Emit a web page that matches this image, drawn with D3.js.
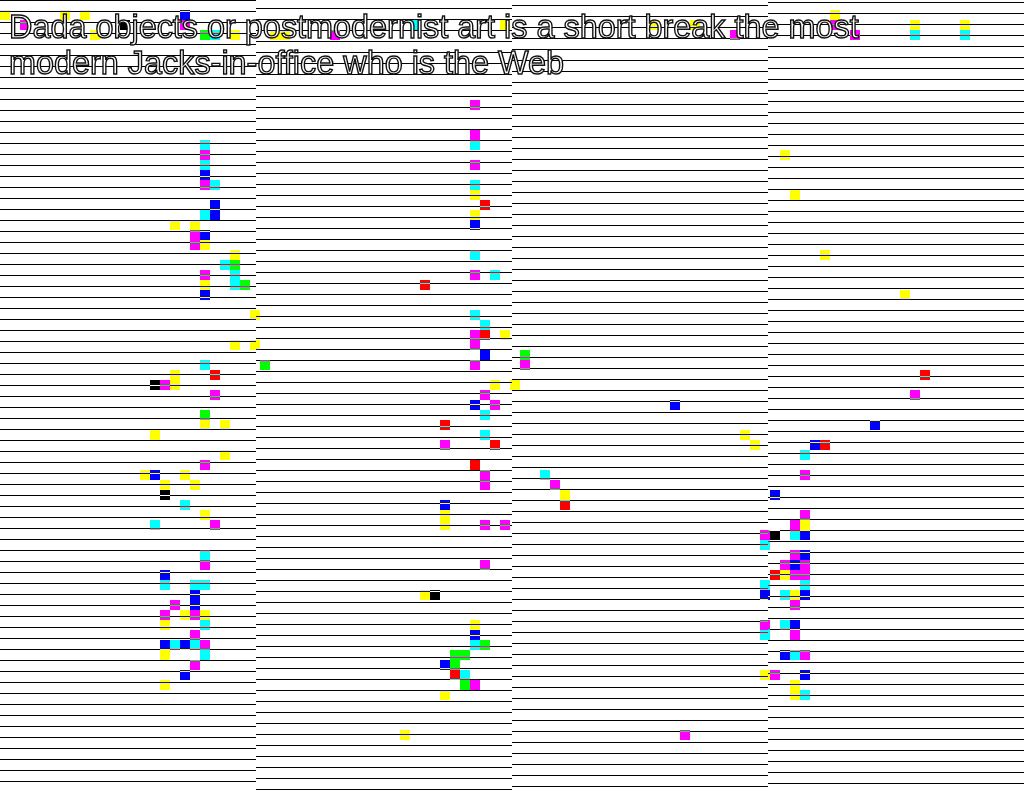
<!DOCTYPE html>
<html>
<head>
<meta charset="utf-8">
<script src="https://cdn.jsdelivr.net/npm/d3@7"></script>
<style>
  html, body { margin: 0; padding: 0; background: #fff; }
  svg { display: block; }
</style>
</head>
<body>
<script>
// cells sit on a 10px grid, each one is [column, row]
var yellowCells = [
  [0,1],[6,1],[8,1],[9,3],[23,3],[27,3],[28,3],[50,2],[65,2],[69,2],[83,1],[91,2],[96,2],
  [17,22],[19,22],[20,24],[23,25],[20,28],[25,31],[23,34],[25,34],[17,37],[17,38],[20,42],
  [22,42],[15,43],[22,45],[14,47],[18,47],[16,48],[19,48],[20,51],[18,61],[20,61],[16,62],
  [16,65],[16,68],
  [47,19],[47,21],[50,33],[49,38],[51,38],[44,51],[44,52],[42,59],[47,62],[44,69],[40,73],
  [74,43],[75,44],[56,49],
  [78,15],[79,19],[82,25],[90,29],[80,52],[78,57],[79,59],[76,67],[79,68],[79,69]
];
var magentaCells = [
  [2,2],[18,2],[33,3],[73,3],[83,2],[85,3],
  [20,15],[20,18],[19,23],[19,24],[20,27],[16,38],[21,39],[20,46],[21,52],[20,56],[17,60],
  [16,61],[19,61],[19,63],[20,64],[19,66],
  [47,10],[47,13],[47,16],[47,27],[47,33],[47,34],[47,36],[52,36],[48,39],[49,40],[44,44],
  [48,47],[48,48],[48,52],[50,52],[48,56],[47,68],
  [55,48],[68,73],
  [91,39],[80,47],[80,51],[79,52],[76,53],[79,55],[78,56],[80,56],[79,57],[80,57],[79,60],
  [76,62],[79,63],[80,65],[77,67]
];
var cyanCells = [
  [21,3],[41,2],[91,3],[96,3],
  [20,14],[20,16],[21,18],[20,21],[22,26],[23,27],[23,28],[20,36],[18,50],[15,52],[20,55],
  [16,58],[19,58],[20,58],[20,62],[17,64],[19,64],[20,65],
  [47,14],[47,18],[47,25],[49,27],[47,31],[48,32],[48,41],[48,43],[47,64],[46,67],
  [54,47],
  [80,45],[79,53],[76,54],[76,58],[80,58],[78,59],[78,62],[76,63],[79,65],[80,69]
];
var blueCells = [
  [18,1],
  [20,17],[21,20],[21,21],[20,23],[20,29],[15,47],[16,57],[19,59],[19,60],[16,64],[18,64],[18,67],
  [47,22],[48,35],[47,40],[44,50],[47,63],[44,66],
  [67,40],
  [77,49],[87,42],[81,44],[80,53],[80,55],[79,56],[76,59],[80,59],[79,62],[78,65],[80,67]
];
var redCells = [
  [21,37],[48,20],[42,28],[48,33],[44,42],[49,44],[47,46],[45,67],[56,50],[92,37],[82,44],[77,57]
];
var greenCells = [
  [20,3],[23,26],[24,28],[26,36],[20,41],[52,35],[48,64],[45,65],[46,65],[45,66],[46,68]
];
var blackCells = [
  [12,2],[15,38],[16,49],[43,59],[77,53]
];

var seriesNames = ["yellow", "magenta", "cyan", "blue", "red", "green", "black"];
var seriesCells = [yellowCells, magentaCells, cyanCells, blueCells, redCells, greenCells, blackCells];
var titleLines = [
  "Dada objects or postmodernist art is a short break the most",
  "modern Jacks-in-office who is the Web"
];

var svgWidth = 1024;
var svgHeight = 790;

var svg = d3.select("body").append("svg")
  .attr("width", svgWidth)
  .attr("height", svgHeight);

svg.append("rect")
  .attr("width", svgWidth)
  .attr("height", svgHeight)
  .attr("fill", "#fff");

// grid scales: 10px per cell
var x = d3.scaleLinear().domain([0, 102.4]).range([0, svgWidth]);
var y = d3.scaleLinear().domain([0, 79]).range([0, svgHeight]);

// the colour you see; the fill is its inverse, blended with "difference"
var shown = d3.scaleOrdinal()
  .domain(seriesNames)
  .range(["#ffff00", "#ff00ff", "#00ffff", "#0000ff", "#ff0000", "#00ff00", "#000000"]);

function inverse(c) {
  var rgb = d3.rgb(c);
  return d3.rgb(255 - rgb.r, 255 - rgb.g, 255 - rgb.b).formatHex();
}

// four panels of ruled lines, each shifted a quarter pitch
var panels = [0, 1, 2, 3];
var panelX = d3.scaleBand().domain(panels).range([0, svgWidth]);
var pitch = 11;

var rules = svg.append("g").attr("class", "rules");
panels.forEach(function(p) {
  var offset = pitch * ((4 - p) % 4) / 4;
  rules.selectAll(".r" + p)
    .data(d3.range(offset, svgHeight, pitch))
    .enter().append("line")
    .attr("class", "r" + p)
    .attr("x1", panelX(p))
    .attr("x2", panelX(p) + panelX.bandwidth())
    .attr("y1", function(d) { return Math.floor(d) + 0.5; })
    .attr("y2", function(d) { return Math.floor(d) + 0.5; })
    .attr("stroke", "#000")
    .attr("stroke-width", 1)
    .attr("shape-rendering", "crispEdges");
});

var cells = [];
seriesNames.forEach(function(name, i) {
  seriesCells[i].forEach(function(c) {
    cells.push({ series: name, col: c[0], row: c[1] });
  });
});

svg.append("g")
  .attr("class", "cells")
  .style("mix-blend-mode", "difference")
  .selectAll("rect")
  .data(cells)
  .enter().append("rect")
  .attr("x", function(d) { return x(d.col); })
  .attr("y", function(d) { return y(d.row); })
  .attr("width", x(1) - x(0))
  .attr("height", y(1) - y(0))
  .attr("fill", function(d) { return inverse(shown(d.series)); });

svg.append("g")
  .attr("class", "title")
  .selectAll("text")
  .data(titleLines)
  .enter().append("text")
  .attr("x", 9)
  .attr("y", function(d, i) { return 38 + i * 36; })
  .attr("font-family", "'Liberation Sans', Arial, sans-serif")
  .attr("font-size", 32.4)
  .attr("fill", "#fff")
  .attr("stroke", "#111")
  .attr("stroke-width", 1.4)
  .text(function(d) { return d; });
</script>
</body>
</html>
